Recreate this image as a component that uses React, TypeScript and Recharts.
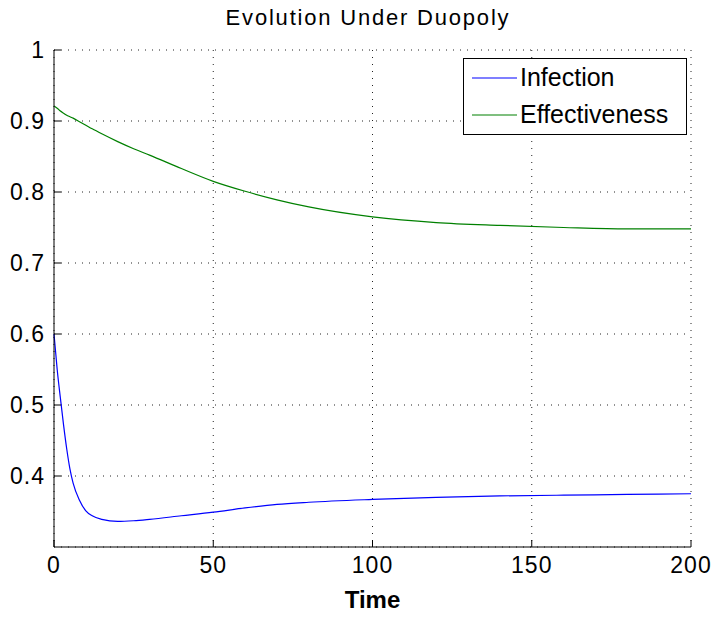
import React from "react";
import { LineChart, Line, XAxis, YAxis, CartesianGrid } from "recharts";

const FONT = '"Liberation Sans", Arial, Helvetica, sans-serif';

// time steps
const times = [0, 1, 2, 3, 4, 5, 6, 8, 10, 12, 15, 20, 25, 30, 40, 50, 60, 70, 80, 100, 120, 140, 160, 180, 200];
const infection = [
  0.6, 0.55, 0.51, 0.472, 0.438, 0.41, 0.39, 0.366, 0.351, 0.344, 0.339, 0.336, 0.337, 0.339, 0.344,
  0.349, 0.355, 0.36, 0.363, 0.367, 0.37, 0.372, 0.373, 0.374, 0.375,
];
const effectiveness = [
  0.921, 0.918, 0.914, 0.911, 0.908, 0.906, 0.904, 0.899, 0.894, 0.889, 0.882, 0.871, 0.861, 0.852, 0.833,
  0.815, 0.801, 0.789, 0.779, 0.765, 0.757, 0.753, 0.75, 0.748, 0.748,
];

const xTicks = [0, 50, 100, 150, 200];
const yTicks = [0.4, 0.5, 0.6, 0.7, 0.8, 0.9, 1];

const series = [
  { key: "infection", name: "Infection", color: "#0000ff" },
  { key: "effectiveness", name: "Effectiveness", color: "#008000" },
];

const data = times.map((t, i) => ({ t, infection: infection[i], effectiveness: effectiveness[i] }));

const tickStyle = { fontSize: 23, fill: "#000", fontFamily: FONT, letterSpacing: 1 };

// legend drawn as an overlay so it doesn't shrink the plot area
function LegendBox() {
  return (
    <div
      style={{
        position: "absolute",
        left: 463,
        top: 58,
        width: 222,
        height: 75,
        border: "1px solid #000",
        background: "#fff",
        fontFamily: FONT,
        fontSize: 25,
        color: "#000",
      }}
    >
      {series.map((s, i) => (
        <div key={s.key} style={{ position: "absolute", left: 0, top: i === 0 ? 0 : 37, height: 37, display: "flex", alignItems: "center" }}>
          <svg width={56} height={4} style={{ display: "block" }}>
            <line x1={8} x2={53} y1={2} y2={2} stroke={s.color} strokeWidth={1.2} />
          </svg>
          <span style={{ lineHeight: "37px", whiteSpace: "nowrap" }}>{s.name}</span>
        </div>
      ))}
    </div>
  );
}

export default function App() {
  return (
    <div style={{ position: "absolute", left: 0, top: 0, width: 715, height: 617, background: "#fff" }}>
      <LineChart width={715} height={617} data={data} margin={{ top: 50, right: 24, bottom: 0, left: 4 }}>
        <CartesianGrid stroke="#222" strokeDasharray="1 6" />
        <XAxis
          dataKey="t"
          type="number"
          domain={[0, 200]}
          ticks={xTicks}
          height={70}
          stroke="#000"
          tickSize={-7}
          tickMargin={17}
          tick={tickStyle}
          label={{ value: "Time", position: "insideBottom", offset: 9, fontSize: 24, fontWeight: "bold", fill: "#000", fontFamily: FONT }}
        />
        <XAxis
          xAxisId="top"
          orientation="top"
          dataKey="t"
          type="number"
          domain={[0, 200]}
          ticks={xTicks}
          height={0}
          stroke="#000"
          tickSize={-7}
          tickFormatter={() => ""}
        />
        <YAxis
          type="number"
          domain={[0.3, 1]}
          ticks={yTicks}
          width={50}
          stroke="#000"
          tickSize={-7}
          tickMargin={16}
          tick={tickStyle}
          tickFormatter={(v: number) => (v === 1 ? "1" : String(v))}
        />
        <YAxis
          yAxisId="right"
          orientation="right"
          type="number"
          domain={[0.3, 1]}
          ticks={yTicks}
          width={0}
          stroke="#000"
          tickSize={-7}
          tickFormatter={() => ""}
        />
        {series.map((s) => (
          <Line
            key={s.key}
            dataKey={s.key}
            name={s.name}
            type="monotone"
            stroke={s.color}
            strokeWidth={1.2}
            dot={false}
            isAnimationActive={false}
          />
        ))}
      </LineChart>
      <div
        style={{
          position: "absolute",
          left: 0,
          top: 5,
          width: 736,
          textAlign: "center",
          fontFamily: FONT,
          fontSize: 22,
          letterSpacing: 1.8,
          color: "#000",
        }}
      >
        Evolution Under Duopoly
      </div>
      <LegendBox />
    </div>
  );
}
